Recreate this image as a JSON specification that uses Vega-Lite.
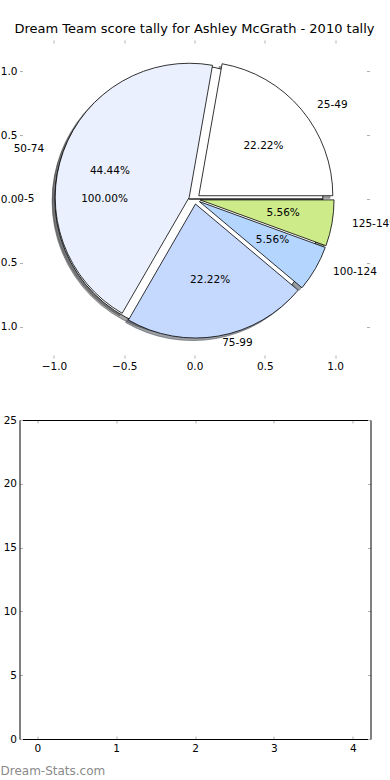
{
  "$schema": "https://vega.github.io/schema/vega-lite/v6.json",
  "padding": {"left": -9.5, "top": 22, "right": 0, "bottom": 0},
  "spacing": 43,
  "background": "white",
  "config": {
    "view": {"stroke": null},
    "font": "DejaVu Sans",
    "axis": {"labelFont": "DejaVu Sans", "labelFontSize": 10.5, "labelColor": "black", "grid": false, "tickColor": "#b0b0b0", "tickWidth": 1, "tickSize": -3, "labelFlush": false, "labelOverlap": false, "title": null}
  },
  "vconcat": [
    {
      "width": 350,
      "height": 318,
      "title": {"text": "Dream Team score tally for Ashley McGrath - 2010 tally", "fontSize": 13, "fontWeight": "normal", "font": "DejaVu Sans", "color": "black", "offset": -6, "anchor": "middle", "baseline": "alphabetic"},
      "data": {"values": [
        {"pie": "A", "label": "0-5", "share": 1.0, "i": 0},
        {"pie": "B", "label": "25-49", "share": 0.2222, "i": 1},
        {"pie": "B", "label": "50-74", "share": 0.4444, "i": 2},
        {"pie": "B", "label": "75-99", "share": 0.2222, "i": 3},
        {"pie": "B", "label": "100-124", "share": 0.0556, "i": 4},
        {"pie": "B", "label": "125-149", "share": 0.0556, "i": 5}
      ]},
      "transform": [{"stack": "share", "groupby": ["pie"], "offset": "normalize", "sort": [{"field": "i", "order": "ascending"}], "as": ["t0", "t1"]}],
      "resolve": {"axis": {"x": "independent", "y": "independent"}},
      "encoding": {
        "x": {"datum": 0, "type": "quantitative", "scale": {"domain": [-1.245, 1.245], "nice": false, "zero": false}, "axis": null},
        "y": {"datum": 0, "type": "quantitative", "scale": {"domain": [-1.245, 1.245], "nice": false, "zero": false}, "axis": null}
      },
      "layer": [
        {
          "transform": [{"filter": "datum.label == '0-5'"}],
          "mark": {"type": "arc", "radius": 134, "xOffset": -8.43, "yOffset": 2.55, "fill": "rgb(77,77,77)", "fillOpacity": 0.5, "stroke": "rgb(77,77,77)", "strokeOpacity": 0.5, "strokeWidth": 1},
          "encoding": {
            "x": {"datum": 0, "type": "quantitative", "scale": {"domain": [-1.245, 1.245], "nice": false, "zero": false}, "axis": {"orient": "bottom", "values": [-1, -0.5, 0, 0.5, 1], "format": ".1f", "domain": false, "labelPadding": 6}},
            "y": {"datum": 0, "type": "quantitative", "scale": {"domain": [-1.245, 1.245], "nice": false, "zero": false}, "axis": {"orient": "left", "values": [-1, -0.5, 0, 0.5, 1], "format": ".1f", "domain": false, "labelPadding": 5.6}},
            "theta": {"field": "t0", "type": "quantitative", "stack": null, "scale": {"domain": [0, 1], "range": [1.5707963, -4.712389]}},
            "theta2": {"field": "t1"}
          }
        },
        {
          "transform": [{"filter": "datum.label == '25-49'"}],
          "mark": {"type": "arc", "radius": 134, "xOffset": 1.5, "yOffset": -0.73, "fill": "rgb(77,77,77)", "fillOpacity": 0.5, "stroke": "rgb(77,77,77)", "strokeOpacity": 0.5, "strokeWidth": 1},
          "encoding": {
            "x": {"datum": 0, "type": "quantitative", "scale": {"domain": [-1.245, 1.245], "nice": false, "zero": false}, "axis": {"orient": "top", "values": [-1, -0.5, 0, 0.5, 1], "labels": false, "domain": false}},
            "y": {"datum": 0, "type": "quantitative", "scale": {"domain": [-1.245, 1.245], "nice": false, "zero": false}, "axis": {"orient": "right", "values": [-1, -0.5, 0, 0.5, 1], "labels": false, "domain": false}},
            "theta": {"field": "t0", "type": "quantitative", "stack": null, "scale": {"domain": [0, 1], "range": [1.5707963, -4.712389]}},
            "theta2": {"field": "t1"}
          }
        },
        {
          "transform": [{"filter": "datum.label == '50-74'"}],
          "mark": {"type": "arc", "radius": 134, "xOffset": -8.09, "yOffset": 0.8, "fill": "rgb(70,72,76)", "fillOpacity": 0.5, "stroke": "rgb(70,72,76)", "strokeOpacity": 0.5, "strokeWidth": 1},
          "encoding": {
            "theta": {"field": "t0", "type": "quantitative", "stack": null, "scale": {"domain": [0, 1], "range": [1.5707963, -4.712389]}},
            "theta2": {"field": "t1"}
          }
        },
        {
          "transform": [{"filter": "datum.label == '75-99'"}],
          "mark": {"type": "arc", "radius": 134, "xOffset": -1.83, "yOffset": 7.58, "fill": "rgb(59,65,76)", "fillOpacity": 0.5, "stroke": "rgb(59,65,76)", "strokeOpacity": 0.5, "strokeWidth": 1},
          "encoding": {
            "theta": {"field": "t0", "type": "quantitative", "stack": null, "scale": {"domain": [0, 1], "range": [1.5707963, -4.712389]}},
            "theta2": {"field": "t1"}
          }
        },
        {
          "transform": [{"filter": "datum.label == '100-124'"}],
          "mark": {"type": "arc", "radius": 134, "xOffset": 2.06, "yOffset": 5.11, "fill": "rgb(54,64,76)", "fillOpacity": 0.5, "stroke": "rgb(54,64,76)", "strokeOpacity": 0.5, "strokeWidth": 1},
          "encoding": {
            "theta": {"field": "t0", "type": "quantitative", "stack": null, "scale": {"domain": [0, 1], "range": [1.5707963, -4.712389]}},
            "theta2": {"field": "t1"}
          }
        },
        {
          "transform": [{"filter": "datum.label == '125-149'"}],
          "mark": {"type": "arc", "radius": 134, "xOffset": 2.72, "yOffset": 3.44, "fill": "rgb(62,70,41)", "fillOpacity": 0.5, "stroke": "rgb(62,70,41)", "strokeOpacity": 0.5, "strokeWidth": 1},
          "encoding": {
            "theta": {"field": "t0", "type": "quantitative", "stack": null, "scale": {"domain": [0, 1], "range": [1.5707963, -4.712389]}},
            "theta2": {"field": "t1"}
          }
        },
        {
          "transform": [{"filter": "datum.label == '0-5'"}],
          "mark": {"type": "arc", "radius": 134, "xOffset": -5.62, "yOffset": 0, "stroke": "black", "strokeWidth": 0.8},
          "encoding": {
            "theta": {"field": "t0", "type": "quantitative", "stack": null, "scale": {"domain": [0, 1], "range": [1.5707963, -4.712389]}},
            "theta2": {"field": "t1"},
            "fill": {"field": "label", "type": "nominal", "scale": {"domain": ["0-5", "25-49", "50-74", "75-99", "100-124", "125-149"], "range": ["#ffffff", "#ffffff", "#eaf0fd", "#c5d8fe", "#b4d5fe", "#ceeb8a"]}, "legend": null}
          }
        },
        {
          "transform": [{"filter": "datum.label == '25-49'"}],
          "mark": {"type": "arc", "radius": 134, "xOffset": 4.31, "yOffset": -3.28, "stroke": "black", "strokeWidth": 0.8},
          "encoding": {
            "theta": {"field": "t0", "type": "quantitative", "stack": null, "scale": {"domain": [0, 1], "range": [1.5707963, -4.712389]}},
            "theta2": {"field": "t1"},
            "fill": {"field": "label", "type": "nominal", "scale": {"domain": ["0-5", "25-49", "50-74", "75-99", "100-124", "125-149"], "range": ["#ffffff", "#ffffff", "#eaf0fd", "#c5d8fe", "#b4d5fe", "#ceeb8a"]}, "legend": null}
          }
        },
        {
          "transform": [{"filter": "datum.label == '50-74'"}],
          "mark": {"type": "arc", "radius": 134, "xOffset": -5.28, "yOffset": -1.75, "stroke": "black", "strokeWidth": 0.8},
          "encoding": {
            "theta": {"field": "t0", "type": "quantitative", "stack": null, "scale": {"domain": [0, 1], "range": [1.5707963, -4.712389]}},
            "theta2": {"field": "t1"},
            "fill": {"field": "label", "type": "nominal", "scale": {"domain": ["0-5", "25-49", "50-74", "75-99", "100-124", "125-149"], "range": ["#ffffff", "#ffffff", "#eaf0fd", "#c5d8fe", "#b4d5fe", "#ceeb8a"]}, "legend": null}
          }
        },
        {
          "transform": [{"filter": "datum.label == '75-99'"}],
          "mark": {"type": "arc", "radius": 134, "xOffset": 0.98, "yOffset": 5.03, "stroke": "black", "strokeWidth": 0.8},
          "encoding": {
            "theta": {"field": "t0", "type": "quantitative", "stack": null, "scale": {"domain": [0, 1], "range": [1.5707963, -4.712389]}},
            "theta2": {"field": "t1"},
            "fill": {"field": "label", "type": "nominal", "scale": {"domain": ["0-5", "25-49", "50-74", "75-99", "100-124", "125-149"], "range": ["#ffffff", "#ffffff", "#eaf0fd", "#c5d8fe", "#b4d5fe", "#ceeb8a"]}, "legend": null}
          }
        },
        {
          "transform": [{"filter": "datum.label == '100-124'"}],
          "mark": {"type": "arc", "radius": 134, "xOffset": 4.87, "yOffset": 2.56, "stroke": "black", "strokeWidth": 0.8},
          "encoding": {
            "theta": {"field": "t0", "type": "quantitative", "stack": null, "scale": {"domain": [0, 1], "range": [1.5707963, -4.712389]}},
            "theta2": {"field": "t1"},
            "fill": {"field": "label", "type": "nominal", "scale": {"domain": ["0-5", "25-49", "50-74", "75-99", "100-124", "125-149"], "range": ["#ffffff", "#ffffff", "#eaf0fd", "#c5d8fe", "#b4d5fe", "#ceeb8a"]}, "legend": null}
          }
        },
        {
          "transform": [{"filter": "datum.label == '125-149'"}],
          "mark": {"type": "arc", "radius": 134, "xOffset": 5.53, "yOffset": 0.89, "stroke": "black", "strokeWidth": 0.8},
          "encoding": {
            "theta": {"field": "t0", "type": "quantitative", "stack": null, "scale": {"domain": [0, 1], "range": [1.5707963, -4.712389]}},
            "theta2": {"field": "t1"},
            "fill": {"field": "label", "type": "nominal", "scale": {"domain": ["0-5", "25-49", "50-74", "75-99", "100-124", "125-149"], "range": ["#ffffff", "#ffffff", "#eaf0fd", "#c5d8fe", "#b4d5fe", "#ceeb8a"]}, "legend": null}
          }
        },
        {
          "transform": [{"filter": "datum.pie == 'A'"}],
          "mark": {"type": "text", "radius": 160, "align": "right", "baseline": "middle", "fontSize": 10.5, "color": "black"},
          "encoding": {
            "theta": {"field": "share", "type": "quantitative", "stack": "normalize", "scale": {"domain": [0, 1], "range": [1.5707963, -4.712389]}},
            "order": {"field": "i", "type": "quantitative"},
            "text": {"field": "label", "type": "nominal"}
          }
        },
        {
          "transform": [{"filter": "datum.pie == 'A'"}],
          "mark": {"type": "text", "radius": 90, "align": "center", "baseline": "middle", "fontSize": 10.5, "color": "black"},
          "encoding": {
            "theta": {"field": "share", "type": "quantitative", "stack": "normalize", "scale": {"domain": [0, 1], "range": [1.5707963, -4.712389]}},
            "order": {"field": "i", "type": "quantitative"},
            "text": {"field": "share", "type": "quantitative", "format": ".2%"}
          }
        },
        {
          "transform": [{"filter": "datum.pie == 'B'"}],
          "mark": {"type": "text", "radius": 160, "align": "left", "baseline": "middle", "dy": 9, "fontSize": 10.5, "color": "black"},
          "encoding": {
            "theta": {"field": "share", "type": "quantitative", "stack": "normalize", "scale": {"domain": [0, 1], "range": [1.5707963, -4.712389]}},
            "order": {"field": "i", "type": "quantitative"},
            "text": {"condition": {"test": "datum.label == '25-49'", "field": "label", "type": "nominal"}, "value": ""}
          }
        },
        {
          "transform": [{"filter": "datum.pie == 'B'"}],
          "mark": {"type": "text", "radius": 160, "align": "right", "baseline": "middle", "dy": 5, "fontSize": 10.5, "color": "black"},
          "encoding": {
            "theta": {"field": "share", "type": "quantitative", "stack": "normalize", "scale": {"domain": [0, 1], "range": [1.5707963, -4.712389]}},
            "order": {"field": "i", "type": "quantitative"},
            "text": {"condition": {"test": "datum.label == '50-74'", "field": "label", "type": "nominal"}, "value": ""}
          }
        },
        {
          "transform": [{"filter": "datum.pie == 'B'"}],
          "mark": {"type": "text", "radius": 146, "align": "left", "baseline": "middle", "dx": 2.4, "fontSize": 10.5, "color": "black"},
          "encoding": {
            "theta": {"field": "share", "type": "quantitative", "stack": "normalize", "scale": {"domain": [0, 1], "range": [1.5707963, -4.712389]}},
            "order": {"field": "i", "type": "quantitative"},
            "text": {"condition": {"test": "datum.label == '75-99'", "field": "label", "type": "nominal"}, "value": ""}
          }
        },
        {
          "transform": [{"filter": "datum.pie == 'B'"}],
          "mark": {"type": "text", "radius": 160, "align": "left", "baseline": "middle", "dy": -7, "fontSize": 10.5, "color": "black"},
          "encoding": {
            "theta": {"field": "share", "type": "quantitative", "stack": "normalize", "scale": {"domain": [0, 1], "range": [1.5707963, -4.712389]}},
            "order": {"field": "i", "type": "quantitative"},
            "text": {"condition": {"test": "datum.label == '100-124'", "field": "label", "type": "nominal"}, "value": ""}
          }
        },
        {
          "transform": [{"filter": "datum.pie == 'B'"}],
          "mark": {"type": "text", "radius": 160, "align": "left", "baseline": "middle", "dy": -2.5, "fontSize": 10.5, "color": "black"},
          "encoding": {
            "theta": {"field": "share", "type": "quantitative", "stack": "normalize", "scale": {"domain": [0, 1], "range": [1.5707963, -4.712389]}},
            "order": {"field": "i", "type": "quantitative"},
            "text": {"condition": {"test": "datum.label == '125-149'", "field": "label", "type": "nominal"}, "value": ""}
          }
        },
        {
          "transform": [{"filter": "datum.pie == 'B'"}],
          "mark": {"type": "text", "radius": 90, "align": "center", "baseline": "middle", "dy": 5, "fontSize": 10.5, "color": "black"},
          "encoding": {
            "theta": {"field": "share", "type": "quantitative", "stack": "normalize", "scale": {"domain": [0, 1], "range": [1.5707963, -4.712389]}},
            "order": {"field": "i", "type": "quantitative"},
            "text": {"condition": {"test": "datum.label == '25-49'", "field": "share", "type": "quantitative", "format": ".2%"}, "value": ""}
          }
        },
        {
          "transform": [{"filter": "datum.pie == 'B'"}],
          "mark": {"type": "text", "radius": 90, "align": "center", "baseline": "middle", "dy": 3, "fontSize": 10.5, "color": "black"},
          "encoding": {
            "theta": {"field": "share", "type": "quantitative", "stack": "normalize", "scale": {"domain": [0, 1], "range": [1.5707963, -4.712389]}},
            "order": {"field": "i", "type": "quantitative"},
            "text": {"condition": {"test": "datum.label == '50-74'", "field": "share", "type": "quantitative", "format": ".2%"}, "value": ""}
          }
        },
        {
          "transform": [{"filter": "datum.pie == 'B'"}],
          "mark": {"type": "text", "radius": 82, "align": "center", "baseline": "middle", "dx": 1.4, "fontSize": 10.5, "color": "black"},
          "encoding": {
            "theta": {"field": "share", "type": "quantitative", "stack": "normalize", "scale": {"domain": [0, 1], "range": [1.5707963, -4.712389]}},
            "order": {"field": "i", "type": "quantitative"},
            "text": {"condition": {"test": "datum.label == '75-99'", "field": "share", "type": "quantitative", "format": ".2%"}, "value": ""}
          }
        },
        {
          "transform": [{"filter": "datum.pie == 'B'"}],
          "mark": {"type": "text", "radius": 90, "align": "center", "baseline": "middle", "dy": -4, "fontSize": 10.5, "color": "black"},
          "encoding": {
            "theta": {"field": "share", "type": "quantitative", "stack": "normalize", "scale": {"domain": [0, 1], "range": [1.5707963, -4.712389]}},
            "order": {"field": "i", "type": "quantitative"},
            "text": {"condition": {"test": "datum.label == '100-124'", "field": "share", "type": "quantitative", "format": ".2%"}, "value": ""}
          }
        },
        {
          "transform": [{"filter": "datum.pie == 'B'"}],
          "mark": {"type": "text", "radius": 90, "align": "center", "baseline": "middle", "dy": -1.4, "fontSize": 10.5, "color": "black"},
          "encoding": {
            "theta": {"field": "share", "type": "quantitative", "stack": "normalize", "scale": {"domain": [0, 1], "range": [1.5707963, -4.712389]}},
            "order": {"field": "i", "type": "quantitative"},
            "text": {"condition": {"test": "datum.label == '125-149'", "field": "share", "type": "quantitative", "format": ".2%"}, "value": ""}
          }
        }
      ]
    },
    {
      "width": 351,
      "height": 319,
      "data": {"values": []},
      "resolve": {"axis": {"x": "independent", "y": "independent"}},
      "layer": [
        {
          "mark": {"type": "point", "opacity": 0},
          "encoding": {
            "x": {"field": "x", "type": "quantitative", "scale": {"domain": [-0.225, 4.225], "nice": false, "zero": false}, "axis": {"orient": "bottom", "values": [0, 1, 2, 3, 4], "format": "d", "domain": true, "domainColor": "black", "domainWidth": 1, "labelPadding": 7, "title": "Dream-Stats.com", "titleAnchor": "start", "titleAlign": "left", "titleX": -19.5, "titleY": 31, "titleBaseline": "middle", "titleColor": "#8a8a8a", "titleFont": "DejaVu Sans", "titleFontSize": 12, "titleFontWeight": "normal"}},
            "y": {"field": "y", "type": "quantitative", "scale": {"domain": [0, 25], "nice": false, "zero": false}, "axis": {"orient": "left", "values": [0, 5, 10, 15, 20, 25], "format": "d", "domain": true, "domainColor": "black", "domainWidth": 1, "labelPadding": 6}}
          }
        },
        {
          "mark": {"type": "point", "opacity": 0},
          "encoding": {
            "x": {"field": "x", "type": "quantitative", "scale": {"domain": [-0.225, 4.225], "nice": false, "zero": false}, "axis": {"orient": "top", "values": [0, 1, 2, 3, 4], "labels": false, "domain": true, "domainColor": "black", "domainWidth": 1}},
            "y": {"field": "y", "type": "quantitative", "scale": {"domain": [0, 25], "nice": false, "zero": false}, "axis": {"orient": "right", "values": [0, 5, 10, 15, 20, 25], "labels": false, "domain": true, "domainColor": "black", "domainWidth": 1}}
          }
        }
      ]
    }
  ]
}
